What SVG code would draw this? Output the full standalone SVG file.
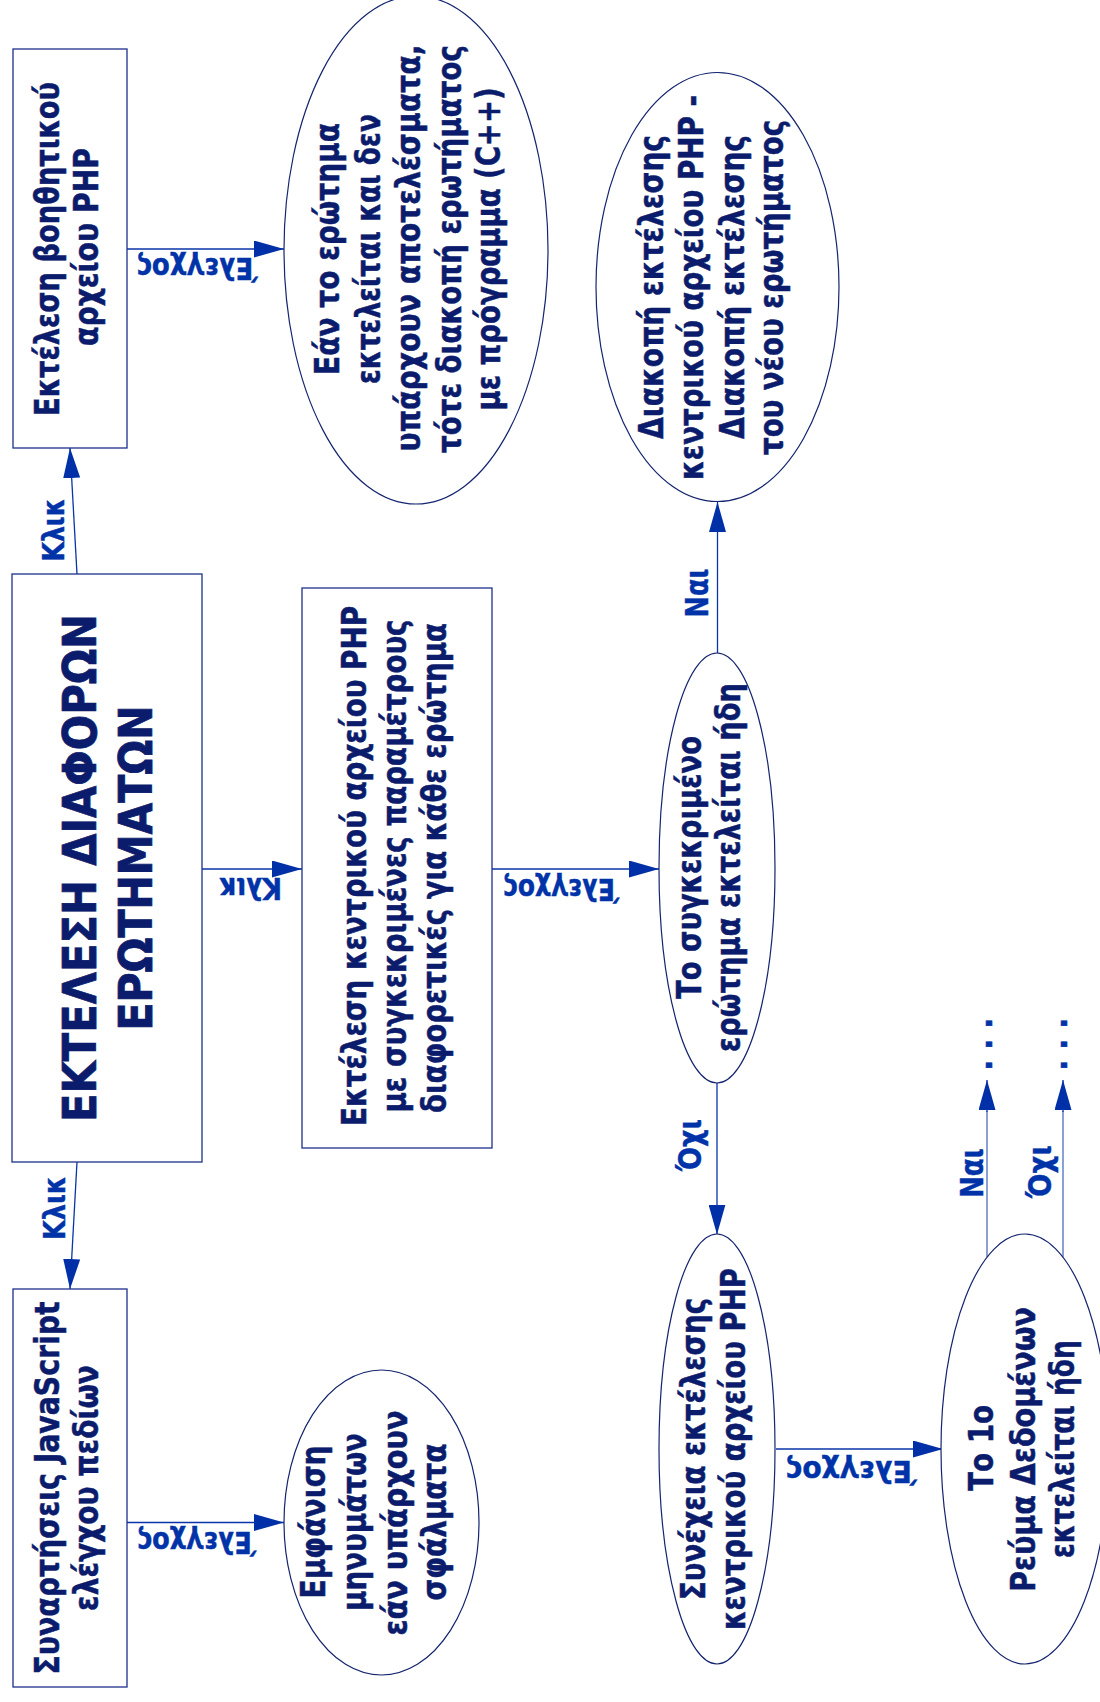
<svg xmlns="http://www.w3.org/2000/svg" width="1100" height="1702" viewBox="0 0 1100 1702">
<style>
.bg{fill:#ffffff}
.box{fill:#ffffff;stroke:#1d318c;stroke-width:1.3}
.ell{fill:#ffffff;stroke:#14246e;stroke-width:1.2}
.t{font-family:"DejaVu Sans Condensed","DejaVu Sans","Liberation Sans",sans-serif;font-weight:bold;font-size:34px;fill:#0b1c6c;stroke:#0b1c6c;stroke-width:0.5;text-anchor:middle}
.title{font-size:47px;stroke-width:0.8}
.lbl{font-family:"DejaVu Sans Condensed","DejaVu Sans","Liberation Sans",sans-serif;font-weight:bold;font-size:30px;fill:#0033a8;stroke:#0033a8;stroke-width:0.4;text-anchor:middle}
.lbl2{font-size:32px}
.c{stroke:#0a35aa;stroke-width:1.3;fill:none}
.c2{stroke:#6f88cc;stroke-width:1.6;fill:none}
</style>
<defs>
<marker id="ah" markerUnits="userSpaceOnUse" markerWidth="30" markerHeight="17" refX="30" refY="8.5" orient="auto">
<path d="M0,0 L30,8.5 L0,17 Z" fill="#0030a8"/>
</marker>
</defs>
<rect class="bg" x="0" y="0" width="1100" height="1702"/>

<g id="connectors">
<line class="c" x1="77" y1="574" x2="70" y2="448" marker-end="url(#ah)"/>
<text class="lbl" transform="translate(63.5,530) rotate(-90)" textLength="63" lengthAdjust="spacingAndGlyphs">Κλικ</text>
<line class="c" x1="77" y1="1162" x2="70" y2="1289" marker-end="url(#ah)"/>
<text class="lbl" transform="translate(65,1208) rotate(-90)" textLength="64" lengthAdjust="spacingAndGlyphs">Κλικ</text>
<line class="c" x1="202" y1="869" x2="302" y2="869" marker-end="url(#ah)"/>
<text class="lbl" transform="translate(250,878) rotate(180)" textLength="64" lengthAdjust="spacingAndGlyphs">Κλικ</text>
<line class="c" x1="127" y1="249" x2="284" y2="249" marker-end="url(#ah)"/>
<text class="lbl" transform="translate(197,258) rotate(180)" textLength="121" lengthAdjust="spacingAndGlyphs">Έλεγχος</text>
<line class="c" x1="492" y1="869" x2="659" y2="869" marker-end="url(#ah)"/>
<text class="lbl" transform="translate(561,879) rotate(180)" textLength="116" lengthAdjust="spacingAndGlyphs">Έλεγχος</text>
<line class="c" x1="717.5" y1="653" x2="717.5" y2="502" marker-end="url(#ah)"/>
<text class="lbl lbl2" transform="translate(708,593) rotate(-90)" textLength="49" lengthAdjust="spacingAndGlyphs">Ναι</text>
<line class="c" x1="717" y1="1083" x2="717" y2="1234.5" marker-end="url(#ah)"/>
<text class="lbl lbl2" transform="translate(701,1145) rotate(-90)" textLength="52" lengthAdjust="spacingAndGlyphs">Όχι</text>
<line class="c" x1="776" y1="1449" x2="943" y2="1449" marker-end="url(#ah)"/>
<text class="lbl" transform="translate(851,1461) rotate(180)" textLength="131" lengthAdjust="spacingAndGlyphs">Έλεγχος</text>
<line class="c" x1="127" y1="1522.5" x2="284" y2="1522.5" marker-end="url(#ah)"/>
<text class="lbl" transform="translate(196.5,1532) rotate(180)" textLength="119" lengthAdjust="spacingAndGlyphs">Έλεγχος</text>
<line class="c2" x1="987" y1="1257" x2="987" y2="1111"/>
<line class="c" x1="987" y1="1112" x2="987" y2="1080" marker-end="url(#ah)"/>
<text class="lbl lbl2" transform="translate(982.7,1173) rotate(-90)" textLength="50" lengthAdjust="spacingAndGlyphs">Ναι</text>
<line class="c2" x1="1063" y1="1257" x2="1063" y2="1111"/>
<line class="c" x1="1063" y1="1112" x2="1063" y2="1080" marker-end="url(#ah)"/>
<text class="lbl lbl2" transform="translate(1051,1171.5) rotate(-90)" textLength="53" lengthAdjust="spacingAndGlyphs">Όχι</text>
</g>

<g id="n-main">
<rect class="box" x="12" y="574" width="190" height="588"/>
<text class="t title" transform="translate(96,868) rotate(-90)" textLength="508" lengthAdjust="spacingAndGlyphs">ΕΚΤΕΛΕΣΗ ΔΙΑΦΟΡΩΝ</text>
<text class="t title" transform="translate(152,868) rotate(-90)" textLength="325" lengthAdjust="spacingAndGlyphs">ΕΡΩΤΗΜΑΤΩΝ</text>
</g>

<g id="n-helper">
<rect class="box" x="13" y="49" width="114" height="399"/>
<text class="t" transform="translate(59,249) rotate(-90)" textLength="334" lengthAdjust="spacingAndGlyphs">Εκτέλεση βοηθητικού</text>
<text class="t" transform="translate(98,247) rotate(-90)" textLength="198" lengthAdjust="spacingAndGlyphs">αρχείου PHP</text>
</g>

<g id="n-helper-result">
<ellipse class="ell" cx="416" cy="250" rx="132" ry="254"/>
<text class="t" transform="translate(339,249) rotate(-90)" textLength="252" lengthAdjust="spacingAndGlyphs">Εάν το ερώτημα</text>
<text class="t" transform="translate(380,249) rotate(-90)" textLength="270" lengthAdjust="spacingAndGlyphs">εκτελείται και δεν</text>
<text class="t" transform="translate(419.5,248) rotate(-90)" textLength="407" lengthAdjust="spacingAndGlyphs">υπάρχουν αποτελέσματα,</text>
<text class="t" transform="translate(460.5,249) rotate(-90)" textLength="408" lengthAdjust="spacingAndGlyphs">τότε διακοπή ερωτήματος</text>
<text class="t" transform="translate(500,249) rotate(-90)" textLength="323" lengthAdjust="spacingAndGlyphs">με πρόγραμμα (C++)</text>
</g>

<g id="n-central">
<rect class="box" x="302" y="588" width="190" height="560"/>
<text class="t" transform="translate(366,866) rotate(-90)" textLength="520" lengthAdjust="spacingAndGlyphs">Εκτέλεση κεντρικού αρχείου PHP</text>
<text class="t" transform="translate(406,866) rotate(-90)" textLength="493" lengthAdjust="spacingAndGlyphs">με συγκεκριμένες παραμέτρους</text>
<text class="t" transform="translate(446,868) rotate(-90)" textLength="490" lengthAdjust="spacingAndGlyphs">διαφορετικές για κάθε ερώτημα</text>
</g>

<g id="n-decision">
<ellipse class="ell" cx="717" cy="868" rx="58" ry="215"/>
<text class="t" transform="translate(700.5,867.5) rotate(-90)" textLength="263" lengthAdjust="spacingAndGlyphs">Το συγκεκριμένο</text>
<text class="t" transform="translate(740,867.5) rotate(-90)" textLength="369" lengthAdjust="spacingAndGlyphs">ερώτημα εκτελείται ήδη</text>
</g>

<g id="n-stop">
<ellipse class="ell" cx="717.5" cy="287" rx="121.5" ry="214.5"/>
<text class="t" transform="translate(663,287) rotate(-90)" textLength="304" lengthAdjust="spacingAndGlyphs">Διακοπή εκτέλεσης</text>
<text class="t" transform="translate(702.5,287.5) rotate(-90)" textLength="385" lengthAdjust="spacingAndGlyphs">κεντρικού αρχείου PHP -</text>
<text class="t" transform="translate(743.5,287) rotate(-90)" textLength="304" lengthAdjust="spacingAndGlyphs">Διακοπή εκτέλεσης</text>
<text class="t" transform="translate(783,287.5) rotate(-90)" textLength="335" lengthAdjust="spacingAndGlyphs">του νέου ερωτήματος</text>
</g>

<g id="n-continue">
<ellipse class="ell" cx="717" cy="1449" rx="58" ry="215"/>
<text class="t" transform="translate(705,1449) rotate(-90)" textLength="302" lengthAdjust="spacingAndGlyphs">Συνέχεια εκτέλεσης</text>
<text class="t" transform="translate(745,1449) rotate(-90)" textLength="362" lengthAdjust="spacingAndGlyphs">κεντρικού αρχείου PHP</text>
</g>

<g id="n-stream">
<ellipse class="ell" cx="1025" cy="1449" rx="84" ry="215"/>
<text class="t" transform="translate(993,1448) rotate(-90)" textLength="86" lengthAdjust="spacingAndGlyphs">Το 1ο</text>
<text class="t" transform="translate(1034.5,1449.5) rotate(-90)" textLength="285" lengthAdjust="spacingAndGlyphs">Ρεύμα Δεδομένων</text>
<text class="t" transform="translate(1074,1449) rotate(-90)" textLength="218" lengthAdjust="spacingAndGlyphs">εκτελείται ήδη</text>
</g>

<g id="n-dots-yes">
<text class="lbl lbl2" transform="translate(991.5,1044.3) rotate(-90)">. . .</text>
</g>
<g id="n-dots-no">
<text class="lbl lbl2" transform="translate(1067.3,1044.3) rotate(-90)">. . .</text>
</g>

<g id="n-js">
<rect class="box" x="13" y="1289" width="114" height="398"/>
<text class="t" transform="translate(59,1488) rotate(-90)" textLength="373" lengthAdjust="spacingAndGlyphs">Συναρτήσεις JavaScript</text>
<text class="t" transform="translate(98,1488) rotate(-90)" textLength="246" lengthAdjust="spacingAndGlyphs">ελέγχου πεδίων</text>
</g>

<g id="n-messages">
<ellipse class="ell" cx="381.5" cy="1522.5" rx="97.5" ry="152.5"/>
<text class="t" transform="translate(325,1522) rotate(-90)" textLength="153" lengthAdjust="spacingAndGlyphs">Εμφάνιση</text>
<text class="t" transform="translate(366,1522) rotate(-90)" textLength="178" lengthAdjust="spacingAndGlyphs">μηνυμάτων</text>
<text class="t" transform="translate(407,1523) rotate(-90)" textLength="225" lengthAdjust="spacingAndGlyphs">εάν υπάρχουν</text>
<text class="t" transform="translate(446,1522) rotate(-90)" textLength="157" lengthAdjust="spacingAndGlyphs">σφάλματα</text>
</g>
</svg>
